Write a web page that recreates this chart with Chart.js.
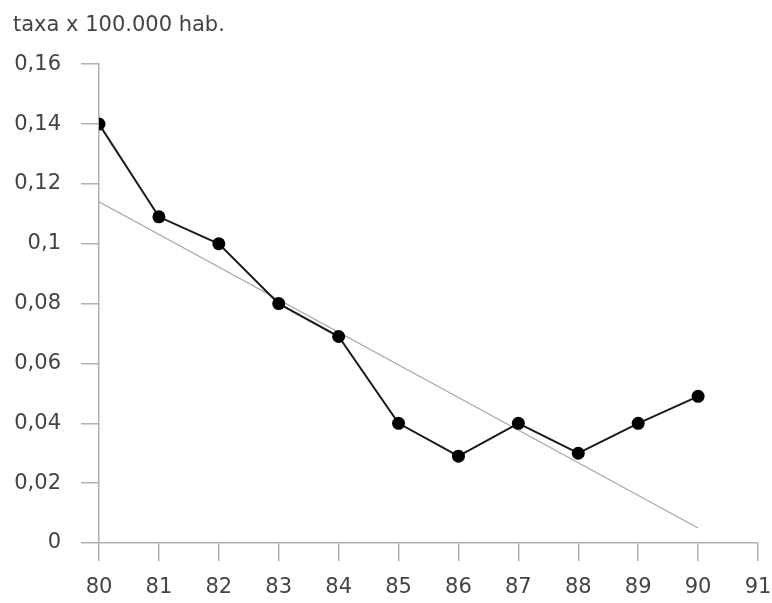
<!DOCTYPE html>
<html>
<head>
<meta charset="utf-8">
<script src="https://cdn.jsdelivr.net/npm/chart.js@4"></script>
<style>
  html, body { margin: 0; padding: 0; background: #fff; }
  #wrap { width: 772px; height: 603px; }
</style>
</head>
<body>
<div id="wrap"><canvas id="chart"></canvas></div>
<script>
// data
const years = [80, 81, 82, 83, 84, 85, 86, 87, 88, 89, 90];
const rates = [0.14, 0.109, 0.1, 0.08, 0.069, 0.04, 0.029, 0.04, 0.03, 0.04, 0.049];
const trendYears = [80, 90];
const trendRates = [0.114, 0.005];
const yTicks = [0, 0.02, 0.04, 0.06, 0.08, 0.1, 0.12, 0.14, 0.16];
const xTicks = [80, 81, 82, 83, 84, 85, 86, 87, 88, 89, 90, 91];

const font = { family: 'DejaVu Sans', size: 21, weight: 'normal' };
const txt = '#444';
const axisCol = '#b0b0b0';

function fmtY(v) { return v === 0 ? '0' : String(Number(v.toFixed(2))).replace('.', ','); }

new Chart(document.getElementById('chart'), {
    type: 'scatter',
    data: {
        datasets: [
            {
                data: trendYears.map((x, i) => ({x: x, y: trendRates[i]})),
                showLine: true, borderColor: '#a8a8a8', borderWidth: 1.2,
                pointRadius: 0, order: 2
            },
            {
                data: years.map((x, i) => ({x: x, y: rates[i]})),
                showLine: true, borderColor: '#1a1a1a', borderWidth: 2,
                pointRadius: 6.5, pointBackgroundColor: '#000', pointBorderWidth: 0,
                order: 1
            }
        ]
    },
    options: {
        responsive: true, maintainAspectRatio: false, animation: false,
        layout: { padding: { left: 13, right: 14, top: 0, bottom: 0 } },
        plugins: {
            legend: { display: false }, tooltip: { enabled: false },
            title: { display: true, text: 'taxa x 100.000 hab.', align: 'start', color: txt,
                     font: font, padding: { top: 13, bottom: 26 } }
        },
        scales: {
            x: {
                type: 'linear', min: 80, max: 91,
                afterBuildTicks: s => { s.ticks = xTicks.map(v => ({value: v})); },
                afterFit: s => { s.height = 60; s.paddingRight = 0; s.paddingLeft = 0; },
                ticks: { color: txt, font: font, padding: 14 },
                grid: { drawOnChartArea: false, tickLength: 18, color: axisCol, lineWidth: 1.5 },
                border: { color: axisCol, width: 1.5 }
            },
            y: {
                min: 0, max: 0.16,
                afterBuildTicks: s => { s.ticks = yTicks.map(v => ({value: v})); },
                afterFit: s => { s.width = 86; },
                ticks: { color: txt, font: font, padding: 20, callback: v => fmtY(v) },
                grid: { drawOnChartArea: false, tickLength: 18, color: axisCol, lineWidth: 1.5 },
                border: { color: axisCol, width: 1.5 }
            }
        }
    }
});
</script>
</body>
</html>
